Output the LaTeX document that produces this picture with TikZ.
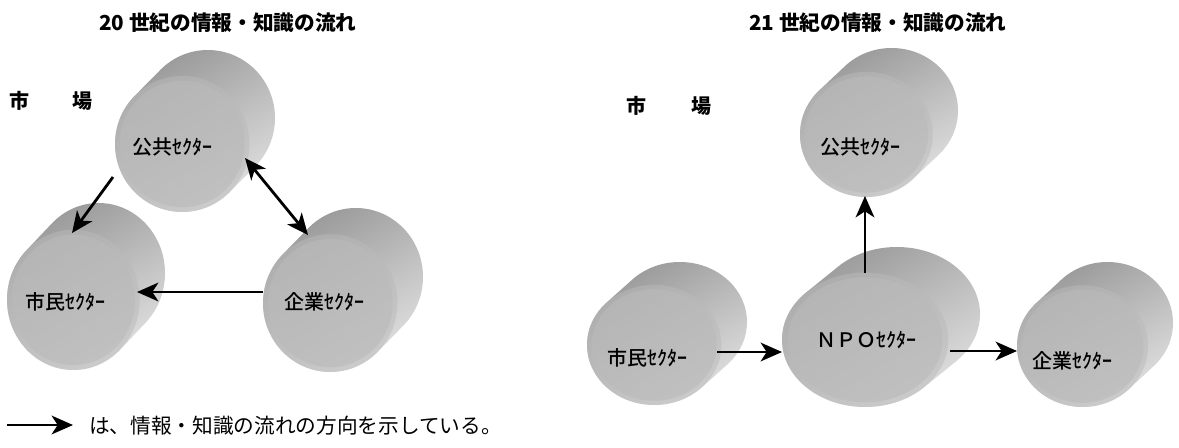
\documentclass[tikz,border=0pt]{standalone}
\usepackage{fontspec}
\newfontfamily\jp{Noto Sans CJK JP}
\newfontfamily\jpm{Noto Sans CJK JP Medium}
\usetikzlibrary{arrows.meta}
\definecolor{blobmid}{gray}{0.73}
\definecolor{blobdark}{gray}{0.60}
\definecolor{bloblight}{gray}{0.88}
\tikzset{
  flow/.style={line width=2.1pt, -{Stealth[length=16pt,width=14pt,inset=4.5pt]}},
  flowboth/.style={line width=2.1pt, {Stealth[length=16pt,width=14pt,inset=4.5pt]}-{Stealth[length=16pt,width=14pt,inset=4.5pt]}},
  lab/.style={inner sep=0pt, font=\jpm\fontsize{15}{15}\selectfont},
  ttl/.style={inner sep=0pt, font=\jp\bfseries\fontsize{15.5}{16}\selectfont},
  mkt/.style={inner sep=0pt, font=\jp\bfseries\fontsize{15}{15}\selectfont},
  legtext/.style={inner sep=0pt, anchor=west, font=\jp\fontsize{15.5}{16}\selectfont},
}
% #1 x0, #2 y0, #3 x1, #4 y1 (bounding box in pixel units, y downward)
\newcommand\myblob[4]{%
  \pgfmathsetmacro\rx{0.42*(#3-#1)}%
  \pgfmathsetmacro\ry{0.42*(#4-#2)}%
  \pgfmathsetmacro\fx{#1+\rx}%
  \pgfmathsetmacro\fy{#4-\ry}%
  \pgfmathsetmacro\bx{#3-\rx}%
  \pgfmathsetmacro\by{#2+\ry}%
  \shade[shading=axis, top color=blobdark, middle color=blobmid, bottom color=bloblight, shading angle=30]
    \foreach \t in {0,0.1,...,1.01} { ({\fx+\t*(\bx-\fx)},{\fy+\t*(\by-\fy)}) ellipse [x radius=\rx, y radius=\ry] };
  \fill[blobmid, opacity=0.5] (\fx,\fy) ellipse [x radius=\rx, y radius=\ry];
  \fill[blobmid, opacity=0.6] (\fx,\fy) ellipse [x radius=0.93*\rx, y radius=0.93*\ry];
}
\begin{document}
\begin{tikzpicture}[x=0.75pt, y=-0.75pt]
  \fill[white] (0,0) rectangle (1179,447);
  \useasboundingbox (0,0) rectangle (1179,447);

  % ---------- left: 20th century ----------
  \node[ttl] (t1) at (228,23) {20 世紀の情報・知識の流れ};
  \node[mkt] (lm1) at (19,101) {市};
  \node[mkt] (lm2) at (82,101) {場};

  \myblob{115}{50}{275}{212}
  \myblob{7}{203}{165}{370}
  \myblob{263}{208}{423}{372}

  \node[lab] (lkou) at (172,147) {公共ｾｸﾀｰ};
  \node[lab] (lshi) at (66,302) {市民ｾｸﾀｰ};
  \node[lab] (lkig) at (324,302) {企業ｾｸﾀｰ};

  \coordinate (la1) at (113,177);
  \coordinate (la2) at (72,233);
  \coordinate (lb1) at (245,158);
  \coordinate (lb2) at (308,235);
  \coordinate (lc1) at (263,292);
  \coordinate (lc2) at (137,292);
  \draw[flow] (la1) -- (la2);
  \draw[flowboth] (lb1) -- (lb2);
  \draw[flow] (lc1) -- (lc2);

  % legend
  \coordinate (g1) at (7,425);
  \coordinate (g2) at (73,425);
  \draw[flow] (g1) -- (g2);
  \node[legtext] (leg) at (89,426) {は、情報・知識の流れの方向を示している。};

  % ---------- right: 21st century ----------
  \node[ttl] (t2) at (878,23) {21 世紀の情報・知識の流れ};
  \node[mkt] (rm1) at (636,106) {市};
  \node[mkt] (rm2) at (701,106) {場};

  \myblob{800}{48}{958}{197}
  \myblob{587}{262}{747}{405}
  \myblob{782}{247}{980}{407}
  \myblob{1017}{262}{1173}{407}

  \node[lab] (rkou) at (860,147) {公共ｾｸﾀｰ};
  \node[lab] (rshi) at (647,358) {市民ｾｸﾀｰ};
  \node[lab] (rnpo) at (866,340) {ＮＰＯｾｸﾀｰ};
  \node[lab] (rkig) at (1072,361) {企業ｾｸﾀｰ};

  \coordinate (ra1) at (865,273);
  \coordinate (ra2) at (865,196);
  \coordinate (rb1) at (717,352);
  \coordinate (rb2) at (782,352);
  \coordinate (rc1) at (950,351);
  \coordinate (rc2) at (1017,351);
  \draw[flow] (ra1) -- (ra2);
  \draw[flow] (rb1) -- (rb2);
  \draw[flow] (rc1) -- (rc2);
\end{tikzpicture}
\end{document}
